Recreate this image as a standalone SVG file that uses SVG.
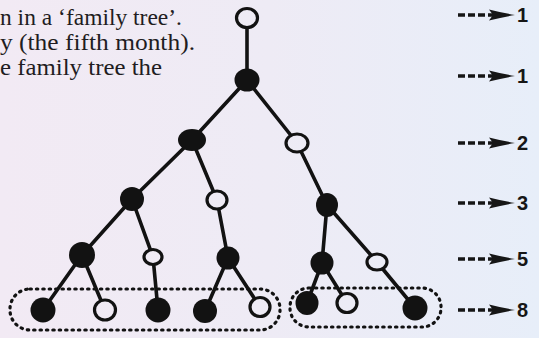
<svg xmlns="http://www.w3.org/2000/svg" width="539" height="338" viewBox="0 0 539 338">
  <defs>
    <linearGradient id="bg" gradientUnits="userSpaceOnUse" x1="0" y1="0" x2="539" y2="0">
      <stop offset="0" stop-color="#f2eaf4"/>
      <stop offset="0.5" stop-color="#eeebf5"/>
      <stop offset="1" stop-color="#e7eef9"/>
    </linearGradient>
    <style>
      .page { font-family: "Liberation Serif", "Times New Roman", serif; font-size: 24px; fill: #1f1d22; }
      .edge { stroke: #121212; stroke-width: 3.6; stroke-linecap: round; fill: none; }
      .full { fill: #121212; }
      .open { fill: url(#bg); stroke: #121212; stroke-width: 3.2; }
      .loop { fill: none; stroke: #121212; stroke-width: 3.2; stroke-linecap: round; stroke-dasharray: 1.4 5; }
      .dash { stroke: #161616; stroke-width: 3.4; stroke-dasharray: 7 3; }
      .head { fill: #161616; }
      .num { font-family: "Liberation Sans", Arial, sans-serif; font-weight: bold; font-size: 20px; fill: #161616; }
    </style>
  </defs>
  <rect x="0" y="0" width="539" height="338" fill="url(#bg)"/>

  <g id="page-text">
    <text class="page" x="0" y="25" textLength="182" lengthAdjust="spacingAndGlyphs">n in a ‘family tree’.</text>
    <text class="page" x="0" y="50" textLength="195" lengthAdjust="spacingAndGlyphs">y (the fifth month).</text>
    <text class="page" x="0" y="75" textLength="162" lengthAdjust="spacingAndGlyphs">e family tree the</text>
  </g>

  <g id="groups">
    <rect class="loop" x="10" y="289" width="270" height="41" rx="20"/>
    <rect class="loop" x="290" y="288" width="151" height="39" rx="19"/>
  </g>

  <g id="connectors">
    <line class="edge" x1="247" y1="18" x2="247" y2="80"/>
    <line class="edge" x1="247" y1="80" x2="192" y2="140"/>
    <line class="edge" x1="247" y1="80" x2="297" y2="143"/>
    <line class="edge" x1="192" y1="140" x2="132" y2="199"/>
    <line class="edge" x1="192" y1="140" x2="217" y2="200"/>
    <line class="edge" x1="297" y1="143" x2="327" y2="205"/>
    <line class="edge" x1="132" y1="199" x2="82" y2="255"/>
    <line class="edge" x1="132" y1="199" x2="153" y2="257"/>
    <line class="edge" x1="217" y1="200" x2="228" y2="258"/>
    <line class="edge" x1="327" y1="205" x2="322" y2="263"/>
    <line class="edge" x1="327" y1="205" x2="377" y2="262"/>
    <line class="edge" x1="82" y1="255" x2="43" y2="310"/>
    <line class="edge" x1="82" y1="255" x2="105" y2="310"/>
    <line class="edge" x1="153" y1="257" x2="158" y2="310"/>
    <line class="edge" x1="228" y1="258" x2="205" y2="311"/>
    <line class="edge" x1="228" y1="258" x2="260" y2="307"/>
    <line class="edge" x1="322" y1="263" x2="307" y2="303"/>
    <line class="edge" x1="322" y1="263" x2="347" y2="303"/>
    <line class="edge" x1="377" y1="262" x2="415" y2="308"/>
  </g>

  <g id="n0"><ellipse class="open" cx="247" cy="18" rx="10.5" ry="9.5"/></g>
  <g id="n1"><ellipse class="full" cx="247" cy="80" rx="12.5" ry="11.5"/></g>
  <g id="n2a"><ellipse class="full" cx="192" cy="140" rx="14" ry="11"/></g>
  <g id="n2b"><ellipse class="open" cx="297" cy="143" rx="11" ry="9"/></g>
  <g id="n3a"><ellipse class="full" cx="132" cy="199" rx="12" ry="12"/></g>
  <g id="n3b"><ellipse class="open" cx="217" cy="200" rx="10" ry="9"/></g>
  <g id="n3c"><ellipse class="full" cx="327" cy="205" rx="11" ry="12"/></g>
  <g id="n4a"><ellipse class="full" cx="82" cy="255" rx="13" ry="13"/></g>
  <g id="n4b"><ellipse class="open" cx="153" cy="257" rx="9" ry="7.5"/></g>
  <g id="n4c"><ellipse class="full" cx="228" cy="258" rx="11.5" ry="11.5"/></g>
  <g id="n4d"><ellipse class="full" cx="322" cy="263" rx="11.5" ry="11.5"/></g>
  <g id="n4e"><ellipse class="open" cx="377" cy="262" rx="10" ry="8"/></g>
  <g id="n5a"><ellipse class="full" cx="43" cy="310" rx="12.5" ry="12.5"/></g>
  <g id="n5b"><ellipse class="open" cx="105" cy="310" rx="10.5" ry="10"/></g>
  <g id="n5c"><ellipse class="full" cx="158" cy="310" rx="12.5" ry="12.5"/></g>
  <g id="n5d"><ellipse class="full" cx="205" cy="311" rx="12" ry="12"/></g>
  <g id="n5e"><ellipse class="open" cx="260" cy="307" rx="10" ry="9.5"/></g>
  <g id="n5f"><ellipse class="full" cx="307" cy="303" rx="11.5" ry="12"/></g>
  <g id="n5g"><ellipse class="open" cx="347" cy="303" rx="10" ry="9.5"/></g>
  <g id="n5h"><ellipse class="full" cx="415" cy="308" rx="12.5" ry="12.5"/></g>

  <g id="counts">
    <g id="count-0" transform="translate(0,15)">
      <line class="dash" x1="458" y1="0" x2="495" y2="0"/>
      <path class="head" d="M489,-5.5 Q502,-2.2 515,0 Q502,2.2 489,5.5 L493,0 Z"/>
      <text class="num" x="517" y="7">1</text>
    </g>
    <g id="count-1" transform="translate(0,76)">
      <line class="dash" x1="458" y1="0" x2="495" y2="0"/>
      <path class="head" d="M489,-5.5 Q502,-2.2 515,0 Q502,2.2 489,5.5 L493,0 Z"/>
      <text class="num" x="517" y="7">1</text>
    </g>
    <g id="count-2" transform="translate(0,143)">
      <line class="dash" x1="458" y1="0" x2="495" y2="0"/>
      <path class="head" d="M489,-5.5 Q502,-2.2 515,0 Q502,2.2 489,5.5 L493,0 Z"/>
      <text class="num" x="517" y="7">2</text>
    </g>
    <g id="count-3" transform="translate(0,203)">
      <line class="dash" x1="458" y1="0" x2="495" y2="0"/>
      <path class="head" d="M489,-5.5 Q502,-2.2 515,0 Q502,2.2 489,5.5 L493,0 Z"/>
      <text class="num" x="517" y="7">3</text>
    </g>
    <g id="count-4" transform="translate(0,259)">
      <line class="dash" x1="458" y1="0" x2="495" y2="0"/>
      <path class="head" d="M489,-5.5 Q502,-2.2 515,0 Q502,2.2 489,5.5 L493,0 Z"/>
      <text class="num" x="517" y="7">5</text>
    </g>
    <g id="count-5" transform="translate(0,310)">
      <line class="dash" x1="458" y1="0" x2="495" y2="0"/>
      <path class="head" d="M489,-5.5 Q502,-2.2 515,0 Q502,2.2 489,5.5 L493,0 Z"/>
      <text class="num" x="517" y="7">8</text>
    </g>
  </g>
</svg>
